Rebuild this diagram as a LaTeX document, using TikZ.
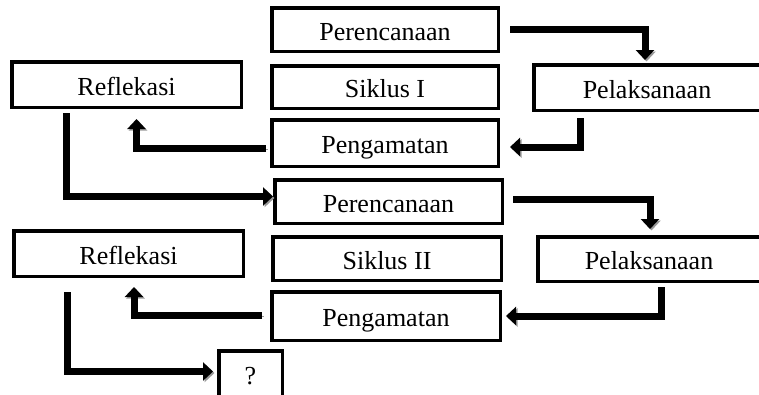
\documentclass[tikz,border=0pt]{standalone}
\usepackage{fontspec}
\setmainfont{Liberation Serif}
\usetikzlibrary{arrows.meta,shadows}
\begin{document}
\begin{tikzpicture}[x=1pt,y={(0pt,-1pt)},
  box/.style={draw,line width=3.5pt,fill=white,inner sep=0pt,
    font=\fontsize{26}{30}\selectfont,text height=21pt,text depth=0pt,
    drop shadow={shadow xshift=1pt,shadow yshift=-1pt,opacity=0.35}},
  arr/.style={line width=7pt,-{Triangle[width=18pt,length=10pt]},
    preaction={draw=black!40,transform canvas={shift={(1.5pt,-1.5pt)}}}}]
\useasboundingbox (0,0) rectangle (759,394);
\clip (0,0) rectangle (759,394);
\node[box,minimum width=226.5pt,minimum height=43.5pt] (p1) at (385,29.5) {Perencanaan};
\node[box,minimum width=226.5pt,minimum height=42.5pt] (s1) at (385,87) {Siklus I};
\node[box,minimum width=226.5pt,minimum height=46.5pt] (g1) at (385,143) {Pengamatan};
\node[box,minimum width=229.5pt,minimum height=45.5pt] (r1) at (126.5,84.5) {Reflekasi};
\node[box,minimum width=226.5pt,minimum height=45.5pt] (l1) at (647,87.5) {Pelaksanaan};
\node[box,minimum width=227.5pt,minimum height=43.5pt] (p2) at (388.5,201.5) {Perencanaan};
\node[box,minimum width=228.5pt,minimum height=43.5pt] (s2) at (387,258.5) {Siklus II};
\node[box,minimum width=228.5pt,minimum height=48.5pt] (g2) at (386,316) {Pengamatan};
\node[box,minimum width=229.5pt,minimum height=45.5pt] (r2) at (128.5,253.5) {Reflekasi};
\node[box,minimum width=222.5pt,minimum height=44.5pt] (l2) at (649,259) {Pelaksanaan};
\node[box,minimum width=63.5pt,minimum height=45.5pt] (q) at (250.5,373.5) {?};
% cycle I
\draw[arr] ([xshift=10pt]p1.east) -| ([xshift=-2pt,yshift=3pt]l1.north);
\draw[arr] ([xshift=-67pt,yshift=-6pt]l1.south) |- ([xshift=10pt,yshift=-4pt]g1.east);
\draw[arr] ([xshift=-4pt,yshift=-5pt]g1.west) -| ([xshift=10pt,yshift=-10pt]r1.south);
\draw[arr] ([xshift=-60.5pt,yshift=-4pt]r1.south) |- ([yshift=5pt]p2.west);
% cycle II
\draw[arr] ([xshift=9pt,yshift=2.5pt]p2.east) -| ([xshift=1pt,yshift=6pt]l2.north);
\draw[arr] ([xshift=12pt,yshift=-4pt]l2.south) |- ([xshift=4pt]g2.east);
\draw[arr] ([xshift=-8pt,yshift=1pt]g2.west) -| ([xshift=5.5pt,yshift=-9pt]r2.south);
\draw[arr] ([xshift=-61.5pt,yshift=-14pt]r2.south) |- ([xshift=-4pt,yshift=2pt]q.west);
\end{tikzpicture}
\end{document}
